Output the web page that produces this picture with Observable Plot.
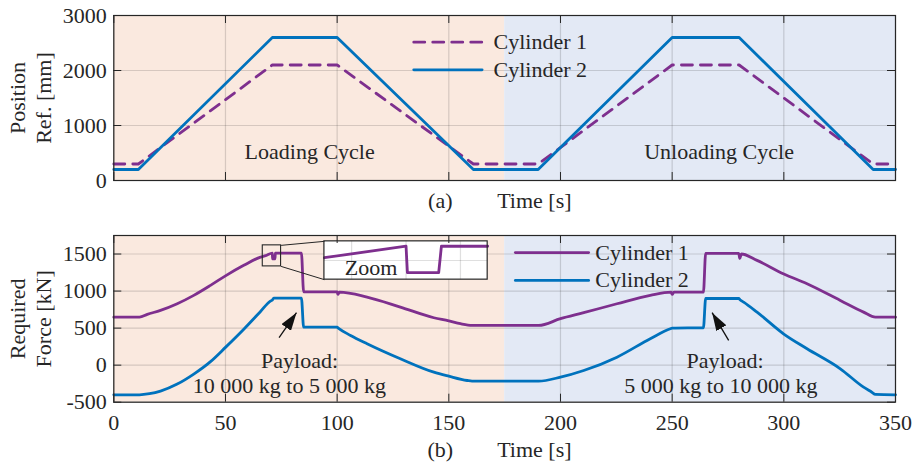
<!DOCTYPE html>
<html>
<head>
<meta charset="utf-8">
<script src="https://cdn.jsdelivr.net/npm/d3@7"></script>
<script src="https://cdn.jsdelivr.net/npm/@observablehq/plot@0.6"></script>
<style>
  body { margin: 0; background: #fff; }
  #chart { width: 916px; height: 466px; font-family: "Liberation Serif", "DejaVu Serif", serif; }
  #chart svg { display: block; font-family: "Liberation Serif", "DejaVu Serif", serif !important; }
  #chart svg text { font-family: "Liberation Serif", "DejaVu Serif", serif !important; }
</style>
</head>
<body>
<div id="chart"></div>
<script>
// ---- data ----------------------------------------------------------------
const phaseNames = ["Loading Cycle", "Unloading Cycle"];
const phaseStart = [0, 175];
const phaseEnd = [175, 350];
const phaseFill = ["#FAE9DF", "#E3E9F5"];

const timeTicks = [0, 50, 100, 150, 200, 250, 300, 350];
const posTicks = [0, 1000, 2000, 3000];
const posTickLabels = ["0", "1000", "2000", "3000"];
const forceTicks = [-500, 0, 500, 1000, 1500];
const forceTickLabels = ["-500", "0", "500", "1000", "1500"];

const seriesNames = ["Cylinder 1", "Cylinder 2"];

// (a) position reference [mm]
const posTime = [0, 11, 71, 100, 161, 190, 250, 280, 340, 350];
const posCyl1 = [300, 300, 2100, 2100, 300, 300, 2100, 2100, 300, 300];
const posCyl2 = [200, 200, 2600, 2600, 200, 200, 2600, 2600, 200, 200];

// (b) required force [kN]
const forceTime1 = [0, 11.5, 15, 20.9, 28.4, 35.8, 43.3, 50, 58.2, 65.7, 68, 71, 71.05, 72.2, 72.3, 74, 84, 85,
  100, 100.3, 101, 113.4, 128.3, 143.3, 150, 155.2, 160.4, 190.2, 200, 210.4, 225.3, 240.2, 249.5, 250, 250.8,
  264, 265, 279.8, 280.3, 281, 288, 300, 310.4, 325.3, 335.7, 341, 350];
const forceCyl1 = [648, 648, 685, 739, 829, 942, 1077, 1205, 1347, 1459, 1478, 1511, 1435, 1435, 1511, 1511, 1511, 990,
  990, 955, 985, 919, 784, 640, 598, 559, 536, 536, 627, 708, 829, 942, 986, 955, 986,
  986, 1508, 1508, 1440, 1500, 1414, 1230, 1100, 874, 716, 648, 648];

const forceTime2 = [0, 11.5, 16, 20.9, 28.4, 35.8, 43.3, 50, 58.2, 65.7, 70.1, 71, 71.6, 84, 85,
  100, 100.5, 106, 113.4, 128.3, 143.3, 150, 158.2, 160.4, 190.2, 200, 210.4, 225.3, 240.2, 249.2, 250,
  264, 265, 279.8, 280.5, 282, 288, 300, 310.4, 325.3, 335.7, 339.4, 341, 350];
const forceCyl2 = [-400, -400, -385, -350, -255, -120, 48, 240, 485, 725, 865, 880, 905, 905, 512,
  512, 500, 401, 289, 86, -95, -149, -207, -216, -216, -162, -72, 108, 357, 492, 500,
  505, 900, 900, 880, 851, 716, 420, 222, -49, -297, -365, -395, -400];

// zoomed detail of Cylinder 1 around t = 71 s
const zoomTime = [68, 74];
const zoomForce = [1415, 1525];
const zoomTimeTicks = [69, 71, 73];
const zoomForceTicks = [1470];

const payloadTop = ["Payload:", "Payload:"];
const payloadBottom = ["10 000 kg to 5 000 kg", "5 000 kg to 10 000 kg"];

// ---- styling & layout ------------------------------------------------------
const W = 916, ML = 113.3, MR = 21;
const FONT = "'Liberation Serif', 'DejaVu Serif', serif";
const INK = "#262626";
const PURPLE = "#7E2F8E", BLUE = "#0072BD";
const LW = 2.8, TICK = 8;
const innerW = W - ML - MR;

const phaseLabelAt = [{x: 87.7, y: 527}, {x: 271, y: 527}];
const legendA = {x1: 134.3, x2: 164.9, tx: 170, y: [2515, 2013]};
const legendB = {x1: 179.8, x2: 212.6, tx: 215.6, y: [1519, 1144]};
const insetBox = {x1: 94.3, x2: 167.4, y1: 1154, y2: 1671};
const sourceBox = {x1: 66.7, x2: 74.9, y1: 1333, y2: 1617};
const arrows = [{x1: 74.0, y1: 370, x2: 81.8, y2: 708}, {x1: 275.3, y1: 334, x2: 267.9, y2: 708}];
const payloadTopAt = [{x: 83.2, y: 63}, {x: 273.7, y: 63}];
const payloadBottomAt = [{x: 78.6, y: -274}, {x: 271.8, y: -274}];

const style = {fontFamily: FONT, fontSize: "22px", color: INK, background: "transparent", overflow: "visible"};

function boxTicks(xs, ys, innerH) {
  return [
    Plot.tickX(xs, {x: d => d, insetTop: innerH - TICK, stroke: INK}),
    Plot.tickX(xs, {x: d => d, insetBottom: innerH - TICK, stroke: INK}),
    Plot.tickY(ys, {y: d => d, insetRight: innerW - TICK, stroke: INK}),
    Plot.tickY(ys, {y: d => d, insetLeft: innerW - TICK, stroke: INK})
  ];
}

function backgrounds(yDomain) {
  return Plot.rect(phaseNames, {
    x1: (d, i) => phaseStart[i], x2: (d, i) => phaseEnd[i],
    y1: yDomain[0], y2: yDomain[1],
    fill: (d, i) => phaseFill[i]
  });
}

function grid(xs, ys) {
  return [
    Plot.gridX(xs, {stroke: INK, strokeOpacity: 0.17, strokeWidth: 1.2}),
    Plot.gridY(ys, {stroke: INK, strokeOpacity: 0.17, strokeWidth: 1.2})
  ];
}

function yTitle(lines) {
  return [
    Plot.text([lines[0]], {text: d => d, frameAnchor: "left", dx: -(ML - 17), rotate: -90,
      textAnchor: "middle", lineAnchor: "middle", fill: INK}),
    Plot.text([lines[1]], {text: d => d, frameAnchor: "left", dx: -(ML - 43.3), rotate: -90,
      textAnchor: "middle", lineAnchor: "middle", fill: INK})
  ];
}

function xTitle(tag, dy) {
  return [
    Plot.text([tag], {text: d => d, x: 146.2, frameAnchor: "bottom", lineAnchor: "middle", dy, fill: INK}),
    Plot.text(["Time [s]"], {text: d => d, x: 188.3, frameAnchor: "bottom", lineAnchor: "middle", dy, fill: INK})
  ];
}

function legend(cfg, dashed) {
  return seriesNames.flatMap((name, i) => [
    Plot.line([cfg.x1, cfg.x2], {x: d => d, y: cfg.y[i], stroke: i === 0 ? PURPLE : BLUE,
      strokeWidth: LW, strokeDasharray: dashed && i === 0 ? "11,8" : null}),
    Plot.text([name], {text: d => d, x: cfg.tx, y: cfg.y[i], textAnchor: "start", fill: INK})
  ]);
}

// solid triangular arrow head
function solidHead() {
  const m = d3.create("svg:marker")
    .attr("viewBox", "-18 -6 19 12")
    .attr("markerWidth", 19).attr("markerHeight", 12)
    .attr("markerUnits", "userSpaceOnUse")
    .attr("orient", "auto")
    .attr("fill", "#111").attr("stroke", "none");
  m.append("path").attr("d", "M0,0L-18,-5.8L-18,5.8Z");
  return m.node();
}

// ---- (a) position reference ---------------------------------------------
const H1 = 215, MT1 = 15, MB1 = 35;
const chartA = Plot.plot({
  width: W, height: H1, marginLeft: ML, marginRight: MR, marginTop: MT1, marginBottom: MB1,
  style,
  x: {domain: [0, 350], axis: null},
  y: {domain: [0, 3000]},
  marks: [
    backgrounds([0, 3000]),
    ...grid(timeTicks, posTicks),
    Plot.text(phaseNames, {text: d => d, x: (d, i) => phaseLabelAt[i].x, y: (d, i) => phaseLabelAt[i].y, fill: INK}),
    Plot.line(posTime, {x: posTime, y: posCyl1, stroke: PURPLE, strokeWidth: LW, strokeDasharray: "11,8"}),
    Plot.line(posTime, {x: posTime, y: posCyl2, stroke: BLUE, strokeWidth: LW}),
    ...legend(legendA, true),
    Plot.frame({stroke: INK, strokeWidth: 1.2}),
    ...boxTicks(timeTicks, posTicks, H1 - MT1 - MB1),
    Plot.axisY(posTicks, {tickSize: 0, tickPadding: 7, label: null, fill: INK,
      tickFormat: d => posTickLabels[posTicks.indexOf(d)]}),
    ...yTitle(["Position", "Ref. [mm]"]),
    ...xTitle("(a)", 20)
  ]
});

// ---- (b) required force --------------------------------------------------
const H2 = 251, MT2 = 20, MB2 = 64.3;
const ix = d3.scaleLinear(zoomTime, [insetBox.x1, insetBox.x2]);
const iy = d3.scaleLinear(zoomForce, [insetBox.y1, insetBox.y2]);
const zoomIdx = forceTime1.map((t, i) => i).filter(i => forceTime1[i] >= zoomTime[0] && forceTime1[i] <= zoomTime[1]);

const chartB = Plot.plot({
  width: W, height: H2, marginLeft: ML, marginRight: MR, marginTop: MT2, marginBottom: MB2,
  style,
  x: {domain: [0, 350]},
  y: {domain: [-500, 1750]},
  marks: [
    backgrounds([-500, 1750]),
    ...grid(timeTicks, forceTicks),
    Plot.line(forceTime1, {x: forceTime1, y: forceCyl1, stroke: PURPLE, strokeWidth: LW, curve: "monotone-x"}),
    Plot.line(forceTime2, {x: forceTime2, y: forceCyl2, stroke: BLUE, strokeWidth: LW, curve: "monotone-x"}),
    // zoom detail
    Plot.rect([insetBox], {x1: "x1", x2: "x2", y1: "y1", y2: "y2", fill: "white"}),
    Plot.ruleX(zoomTimeTicks, {x: d => ix(d), y1: insetBox.y1, y2: insetBox.y2, stroke: INK, strokeOpacity: 0.15, strokeWidth: 1.2}),
    Plot.ruleY(zoomForceTicks, {y: d => iy(d), x1: insetBox.x1, x2: insetBox.x2, stroke: INK, strokeOpacity: 0.15, strokeWidth: 1.2}),
    Plot.text(["Zoom"], {text: d => d, x: 115.2, y: 1316, fill: INK}),
    Plot.line(zoomIdx, {x: i => ix(forceTime1[i]), y: i => iy(forceCyl1[i]), stroke: PURPLE, strokeWidth: LW}),
    Plot.rect([insetBox], {x1: "x1", x2: "x2", y1: "y1", y2: "y2", fill: "none", stroke: INK, strokeWidth: 1.2}),
    Plot.rect([sourceBox], {x1: "x1", x2: "x2", y1: "y1", y2: "y2", fill: "none", stroke: INK, strokeWidth: 1.1}),
    Plot.link([0, 1], {
      x1: sourceBox.x2, x2: insetBox.x1,
      y1: i => i ? sourceBox.y1 : sourceBox.y2, y2: i => i ? insetBox.y1 : insetBox.y2,
      stroke: INK, strokeWidth: 1
    }),
    // payload change annotations
    Plot.link(arrows, {x1: "x1", y1: "y1", x2: "x2", y2: "y2", stroke: "#111", strokeWidth: 1.3, markerEnd: solidHead}),
    Plot.text(payloadTop, {text: d => d, x: (d, i) => payloadTopAt[i].x, y: (d, i) => payloadTopAt[i].y, fill: INK}),
    Plot.text(payloadBottom, {text: d => d, x: (d, i) => payloadBottomAt[i].x, y: (d, i) => payloadBottomAt[i].y, fill: INK}),
    ...legend(legendB, false),
    Plot.frame({stroke: INK, strokeWidth: 1.2}),
    ...boxTicks(timeTicks, forceTicks, H2 - MT2 - MB2),
    Plot.axisX(timeTicks, {tickSize: 0, tickPadding: 12, label: null, fill: INK}),
    Plot.axisY(forceTicks, {tickSize: 0, tickPadding: 7, label: null, fill: INK,
      tickFormat: d => forceTickLabels[forceTicks.indexOf(d)]}),
    ...yTitle(["Required", "Force [kN]"]),
    ...xTitle("(b)", 47.3)
  ]
});

const root = document.getElementById("chart");
root.append(chartA, chartB);
</script>
</body>
</html>
